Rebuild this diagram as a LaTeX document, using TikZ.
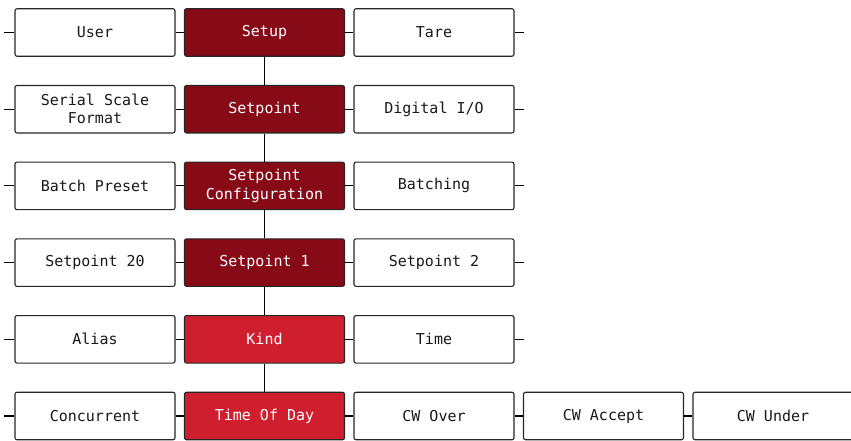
\documentclass[tikz,border=0pt]{standalone}
\usepackage{fontspec}
\setmonofont{DejaVu Sans Mono}
\begin{document}
\begin{tikzpicture}[x=1pt,y=-1pt,
  box/.style={draw=black!85,line width=1.1pt,rounded corners=2pt,minimum width=160pt,minimum height=47.5pt,
    inner sep=1pt,align=center,font=\ttfamily\fontsize{15}{18.3}\selectfont,fill=white,text=black!90},
  dark/.style={box,fill=darkred,text=white},
  bright/.style={box,fill=brightred,text=white},
  conn/.style={draw=black,line width=1.1pt}]
\definecolor{darkred}{HTML}{870A17}
\definecolor{brightred}{HTML}{CF1F2F}
\useasboundingbox (0,0) rectangle (851,440);
\def\ya{32.5}\def\yb{109.2}\def\yc{185.9}\def\yd{262.6}\def\ye{339.3}\def\yf{416}
\def\xa{95}\def\xb{264.5}\def\xc{434}\def\xd{603.5}\def\xe{773}
\node[box]    (user)  at (\xa,\ya) {User};
\node[dark]   (setup) at (\xb,\ya) {Setup};
\node[box]    (tare)  at (\xc,\ya) {Tare};
\node[box]    (ssf)   at (\xa,\yb) {Serial Scale\\Format};
\node[dark]   (sp)    at (\xb,\yb) {Setpoint};
\node[box]    (dio)   at (\xc,\yb) {Digital I/O};
\node[box]    (bp)    at (\xa,\yc) {Batch Preset};
\node[dark]   (spc)   at (\xb,\yc) {Setpoint\\Configuration};
\node[box]    (bat)   at (\xc,\yc) {Batching};
\node[box]    (sp20)  at (\xa,\yd) {Setpoint 20};
\node[dark]   (sp1)   at (\xb,\yd) {Setpoint 1};
\node[box]    (sp2)   at (\xc,\yd) {Setpoint 2};
\node[box]    (alias) at (\xa,\ye) {Alias};
\node[bright] (kind)  at (\xb,\ye) {Kind};
\node[box]    (time)  at (\xc,\ye) {Time};
\node[box]    (conc)  at (\xa,\yf) {Concurrent};
\node[bright] (tod)   at (\xb,\yf) {Time Of Day};
\node[box]    (cwo)   at (\xc,\yf) {CW Over};
\node[box]    (cwa)   at (\xd,\yf) {CW Accept};
\node[box]    (cwu)   at (\xe,\yf) {CW Under};
\foreach \a/\b/\c in {user/setup/tare, ssf/sp/dio, bp/spc/bat, sp20/sp1/sp2, alias/kind/time}{
  \draw[conn] ([xshift=-10pt]\a.west) coordinate (l\a) -- (\a.west);
  \draw[conn] (\a.east) -- (\b.west);
  \draw[conn] (\b.east) -- (\c.west);
  \draw[conn] (\c.east) -- ([xshift=9.5pt]\c.east) coordinate (r\c);
}
\draw[conn] ([xshift=-10pt]conc.west) coordinate (lconc) -- (conc.west);
\draw[conn] (conc.east) -- (tod.west);
\draw[conn] (tod.east) -- (cwo.west);
\draw[conn] (cwo.east) -- (cwa.west);
\draw[conn] (cwa.east) -- (cwu.west);
\draw[conn] (setup.south) -- (sp.north);
\draw[conn] (sp.south) -- (spc.north);
\draw[conn] (spc.south) -- (sp1.north);
\draw[conn] (sp1.south) -- (kind.north);
\draw[conn] (kind.south) -- (tod.north);
\end{tikzpicture}
\end{document}
